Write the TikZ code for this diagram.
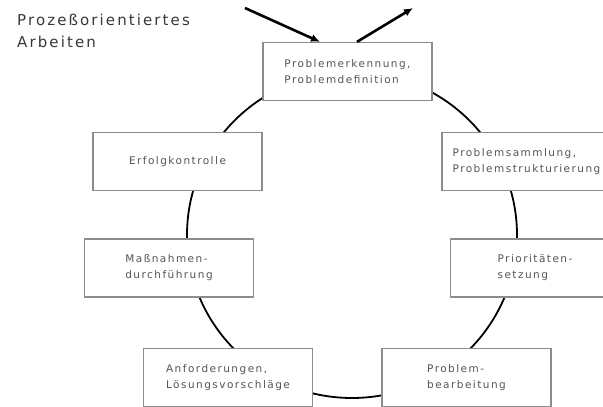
\documentclass[tikz,border=0pt]{standalone}
\usepackage{fontspec}
\usepackage{tikz}
\usetikzlibrary{arrows.meta}

\newfontfamily\kastenfont[LetterSpace=14]{DejaVu Sans}
\newfontfamily\titelfont[LetterSpace=14]{DejaVu Sans}
\definecolor{textgrau}{gray}{0.33}
\definecolor{titelgrau}{gray}{0.22}
\definecolor{randgrau}{gray}{0.55}

\begin{document}
\begin{tikzpicture}[x=1pt, y=-1pt,
    kasten/.style={rectangle, draw=randgrau, line width=1.3pt, fill=white,
      minimum width=169pt, minimum height=58pt, align=left,
      text=textgrau, font=\kastenfont\fontsize{10.5}{16}\selectfont},
    pfeil/.style={line width=2.6pt, -{Latex[length=9pt, width=8pt]}}]
      \useasboundingbox (0,0) rectangle (603,407);

      % 円を描く
      \draw[line width=1.8pt] (352,235) ellipse [x radius=165, y radius=163];

      % 箱
      \node[kasten] (erkennung) at (347.5, 71.5) {Problemerkennung,\\Problemdefinition};
      \node[kasten] (sammlung) at (526.5, 161.5) {Problemsammlung,\\Problemstrukturierung};
      \node[kasten] (prioritaet) at (535, 268) {Prioritäten-\\setzung};
      \node[kasten] (bearbeitung) at (466.5, 377.5) {Problem-\\bearbeitung};
      \node[kasten] (anforderung) at (228, 377.5) {Anforderungen,\\Lösungsvorschläge};
      \node[kasten] (massnahmen) at (169, 268) {Maßnahmen-\\durchführung};
      \node[kasten] (erfolg) at (177.5, 161.5) {Erfolgkontrolle};

      % 矢印
      \coordinate (ein) at (245, 8);
      \coordinate (aus) at (413, 8);
      \draw[pfeil] (ein) -- ([xshift=-27.5pt]erkennung.north);
      \draw[pfeil] ([xshift=9.5pt]erkennung.north) -- (aus);

      % 題名
      \node[anchor=base west, align=left, inner sep=0pt, text=titelgrau,
        font=\titelfont\fontsize{15}{22}\selectfont] (titel) at (17, 47)
        {Prozeßorientiertes\\Arbeiten};
    \end{tikzpicture}
\end{document}
